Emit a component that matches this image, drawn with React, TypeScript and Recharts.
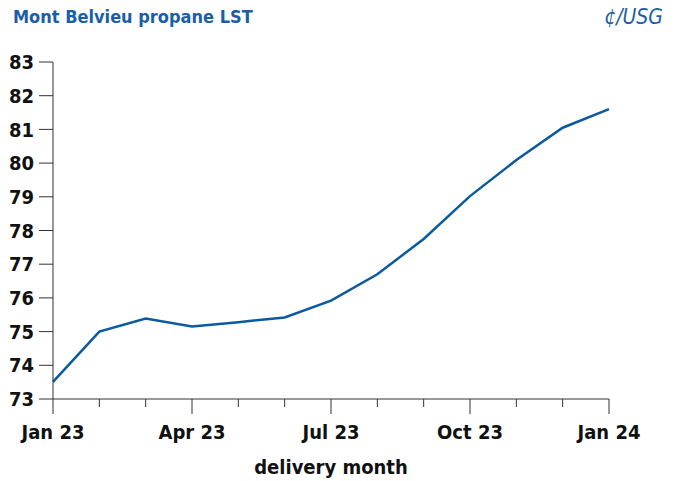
import React from "react";
import { LineChart, Line, XAxis, YAxis } from "recharts";

const months = ["Jan 23", "Feb 23", "Mar 23", "Apr 23", "May 23", "Jun 23", "Jul 23", "Aug 23", "Sep 23", "Oct 23", "Nov 23", "Dec 23", "Jan 24"];
const prices = [73.51, 75.0, 75.39, 75.15, 75.28, 75.42, 75.92, 76.7, 77.75, 79.02, 80.09, 81.05, 81.6];
const yTicks = [73, 74, 75, 76, 77, 78, 79, 80, 81, 82, 83];
const labeledMonths = ["Jan 23", "Apr 23", "Jul 23", "Oct 23", "Jan 24"];

const data = months.map((m, i) => ({ month: m, price: prices[i] }));

const FONT = '"DejaVu Sans Condensed", "DejaVu Sans", sans-serif';
const BLUE = "#0a5aa0";
const AXIS = "#333";

const XTick = (props: any) => {
  const { x, y, payload } = props;
  const major = labeledMonths.includes(payload.value);
  return (
    <g>
      <line x1={x} x2={x} y1={y} y2={y + (major ? 15 : 8)} stroke={AXIS} strokeWidth={1} />
      {major && (
        <text x={x} y={y + 40} textAnchor="middle" fontFamily={FONT} fontWeight="bold" fontSize={20} fill="#111">
          {payload.value}
        </text>
      )}
    </g>
  );
};

export default function App() {
  return (
    <div style={{ position: "absolute", left: 0, top: 0, width: 679, height: 481, background: "#fff" }}>
      <div style={{ position: "absolute", left: 13, top: 6, fontFamily: FONT, fontWeight: "bold", fontSize: 18, color: "#1a5ea8" }}>
        Mont Belvieu propane LST
      </div>
      <div style={{ position: "absolute", right: 16, top: 5, fontFamily: FONT, fontStyle: "italic", fontSize: 21, color: "#1a5ea8" }}>
        ¢/USG
      </div>
      <LineChart width={679} height={481} data={data} margin={{ top: 62, right: 70, bottom: 52, left: 0 }}>
        <XAxis
          dataKey="month"
          interval={0}
          tickLine={false}
          tickSize={0}
          tickMargin={0}
          tick={<XTick />}
          stroke={AXIS}
          height={30}
          padding={{ left: 0, right: 0 }}
        />
        <YAxis
          domain={[73, 83]}
          ticks={yTicks}
          width={53}
          tickSize={14}
          tickMargin={5}
          stroke={AXIS}
          tick={{ fontFamily: FONT, fontWeight: "bold", fontSize: 20, fill: "#111" }}
          allowDataOverflow
        />
        <Line type="linear" dataKey="price" stroke={BLUE} strokeWidth={2.5} dot={false} isAnimationActive={false} />
      </LineChart>
      <div style={{ position: "absolute", left: 0, width: 662, top: 455, textAlign: "center", fontFamily: FONT, fontWeight: "bold", fontSize: 20, color: "#111" }}>
        delivery month
      </div>
    </div>
  );
}
